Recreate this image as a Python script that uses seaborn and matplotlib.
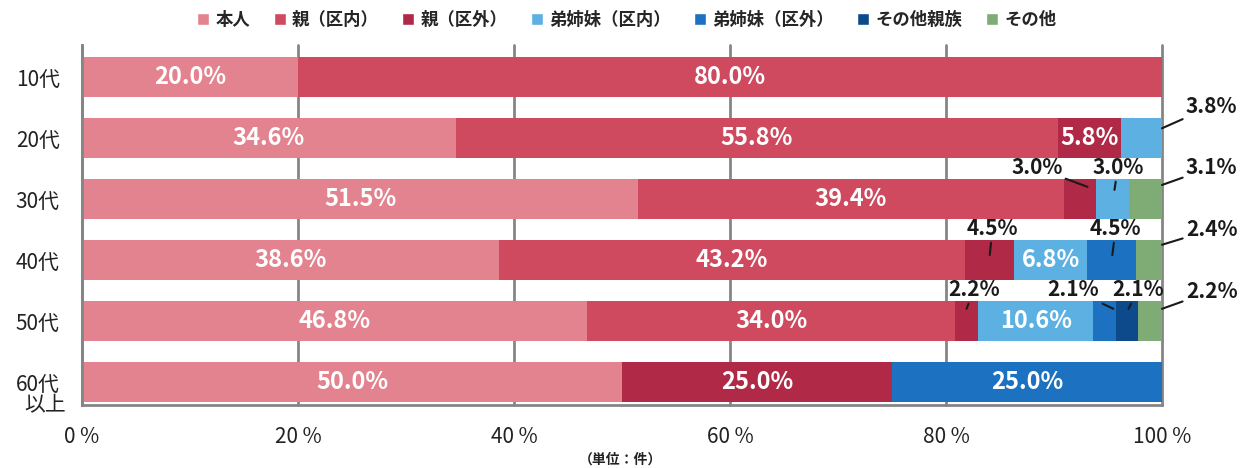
import matplotlib.pyplot as plt
import seaborn as sns
import pandas as pd
import numpy as np
from matplotlib.patches import Patch

# data (percent of each age group)
ages = ['10代', '20代', '30代', '40代', '50代', '60代']
series = ['本人', '親（区内）', '親（区外）', '弟姉妹（区内）', '弟姉妹（区外）', 'その他親族', 'その他']
honnin = [20.0, 34.6, 51.5, 38.6, 46.8, 50.0]
oya_in = [80.0, 55.8, 39.4, 43.2, 34.0, 0.0]
oya_out = [0.0, 5.8, 3.0, 4.5, 2.2, 25.0]
kyodai_in = [0.0, 3.8, 3.0, 6.8, 10.6, 0.0]
kyodai_out = [0.0, 0.0, 0.0, 4.5, 2.1, 25.0]
shinzoku = [0.0, 0.0, 0.0, 0.0, 2.1, 0.0]
sonota = [0.0, 0.0, 3.1, 2.4, 2.2, 0.0]

colors = ['#e2838f', '#cf4a5f', '#b02a47', '#5cb0e2', '#1c72c0', '#0c4a8c', '#7fab74']

df = pd.DataFrame(dict(zip(series, [honnin, oya_in, oya_out, kyodai_in,
                                    kyodai_out, shinzoku, sonota])), index=ages)
cum = df.cumsum(axis=1)

# small values that are labelled outside the bar: (row, series) -> (point on bar, text position)
callouts = {
    (1, '弟姉妹（区内）'): ((100.0, -0.16), (104.6, -0.52)),
    (2, '親（区外）'): ((93.1, -0.20), (88.4, -0.51)),
    (2, '弟姉妹（区内）'): ((95.6, -0.15), (95.9, -0.51)),
    (2, 'その他'): ((100.0, -0.23), (104.6, -0.52)),
    (3, '親（区外）'): ((84.05, -0.08), (84.3, -0.51)),
    (3, '弟姉妹（区外）'): ((95.4, -0.08), (95.7, -0.51)),
    (3, 'その他'): ((100.0, -0.25), (104.6, -0.50)),
    (4, '親（区外）'): ((81.9, -0.20), (82.6, -0.51)),
    (4, '弟姉妹（区外）'): ((95.5, -0.20), (91.8, -0.51)),
    (4, 'その他親族'): ((96.9, -0.20), (97.8, -0.51)),
    (4, 'その他'): ((100.0, -0.20), (104.6, -0.49)),
}

sns.set_theme(style='white')
plt.rcParams['font.family'] = ['Noto Sans CJK JP', 'DejaVu Sans']

fig = plt.figure(figsize=(12.41, 4.68), dpi=100)
ax = fig.add_axes([82 / 1241, 63 / 468, 1080 / 1241, 360 / 468])

# stacked bars: draw the cumulative totals from the last series to the first
for s, c in reversed(list(zip(series, colors))):
    sns.barplot(x=cum[s].values, y=ages, color=c, orient='h', width=0.67,
                saturation=1, errorbar=None, linewidth=0, edgecolor='none', ax=ax)

for i, age in enumerate(ages):
    left = 0
    for s in series:
        v = df.loc[age, s]
        if v > 0:
            if (i, s) in callouts:
                (px, py), (tx, ty) = callouts[(i, s)]
                ax.annotate(f'{v:.1f}%', xy=(px, i + py), xytext=(tx, i + ty),
                            ha='center', va='center', fontsize=15, fontweight='bold',
                            color='#1a1a1a', annotation_clip=False,
                            arrowprops=dict(arrowstyle='-', color='#1a1a1a', lw=1.5,
                                            shrinkA=0, shrinkB=0))
            else:
                ax.text(left + v / 2, i, f'{v:.1f}%', ha='center', va='center',
                        fontsize=17, fontweight='bold', color='white')
        left += v

ax.set_xlim(0, 100)
ax.set_ylim(5.377, -0.525)
ax.set_xticks([0, 20, 40, 60, 80, 100])
ax.set_xticklabels(['0 %', '20 %', '40 %', '60 %', '80 %', '100 %'])
ax.set_xlabel('')
ax.set_ylabel('')
ax.grid(axis='x', color='#858585', lw=2)
ax.set_axisbelow(True)
for gl in ax.get_xgridlines():
    gl.set_clip_on(False)
for side in ['top', 'right']:
    ax.spines[side].set_visible(False)
for side in ['left', 'bottom']:
    ax.spines[side].set_color('#858585')
    ax.spines[side].set_linewidth(2)
ax.tick_params(axis='x', length=0, pad=15, labelsize=15, labelcolor='#222222')
ax.tick_params(axis='y', length=0, pad=16, labelsize=15, labelcolor='#222222')
# second line of the last category label
ax.text(-16 / 10.8, 5.38, '以上', ha='right', va='center', fontsize=15,
        color='#222222', clip_on=False)

handles = [Patch(facecolor=c, label=s) for s, c in zip(series, colors)]
fig.legend(handles=handles, loc='center', bbox_to_anchor=(0.505, 1 - 20 / 468), ncol=7,
           frameon=False, handlelength=0.7, handleheight=0.7, handletextpad=0.35,
           columnspacing=1.35, prop={'size': 12.5, 'weight': 'bold'})

fig.text(0.5, 1 - 460 / 468, '（単位：件）', ha='center', va='center', fontsize=10,
         fontweight='bold', color='#222222')

fig.savefig('out.png', dpi=100, facecolor='white')
